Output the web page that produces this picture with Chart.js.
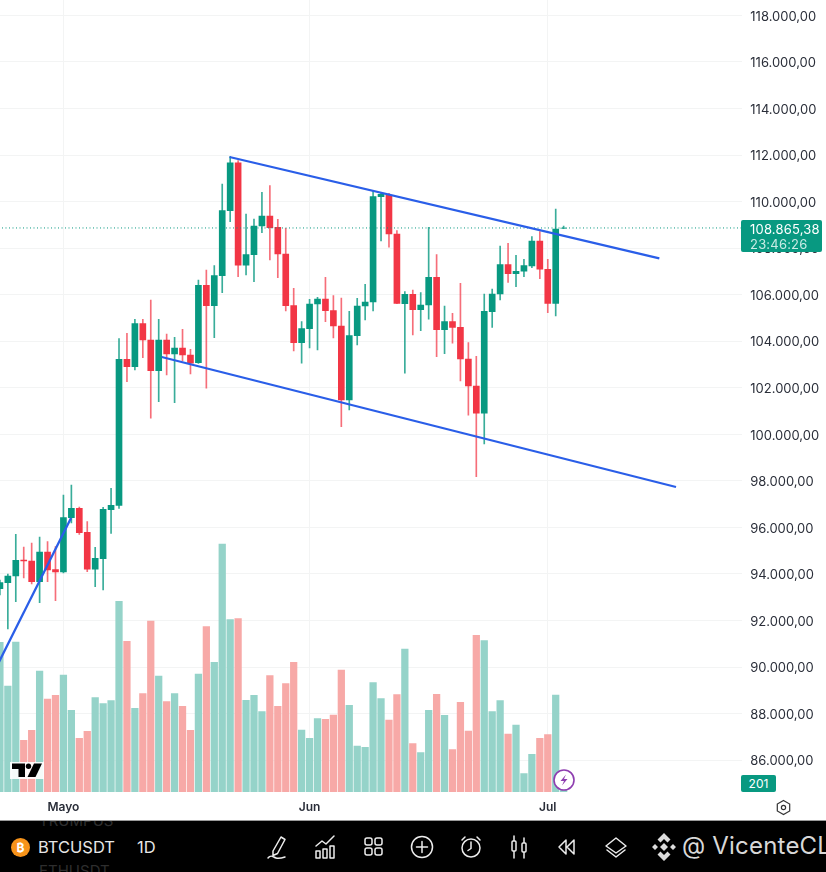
<!DOCTYPE html>
<html><head><meta charset="utf-8">
<style>
html,body{margin:0;padding:0;background:#fff;width:826px;height:872px;overflow:hidden;font-family:Inter,"Noto Sans",sans-serif}
#wrap{position:absolute;left:-12px;top:0;width:838px;height:821px}
.abs{position:absolute}
#bar{position:absolute;left:0;top:820px;width:826px;height:52px;background:#000;border-top:1px solid #9a9a9a;box-sizing:border-box;overflow:hidden;color:#e6e6e6}
#bar svg{position:absolute;stroke:#ececec;fill:none;stroke-width:1.5;stroke-linecap:round;stroke-linejoin:round}
#bar .t{position:absolute;white-space:nowrap}
</style></head><body>
<div id="wrap"><canvas id="c" width="838" height="821"></canvas></div>

<svg class="abs" style="left:10px;top:762px" width="34" height="17" viewBox="0 0 34 17"><rect x="0" y="0" width="34" height="17" fill="#fff" opacity=".9"/><path d="M2 1.500h13v13.500H8.500V7H2z" fill="#000"/><circle cx="18.500" cy="4.200" r="2.700" fill="#000"/><path d="M24 1.500h8L25.500 15H17.500z" fill="#000"/></svg>

<div class="abs" style="left:741px;top:220px;width:81px;height:31.5px;background:#089981;border-radius:2px;color:#fff;font-size:13px;line-height:15px;padding:1.5px 0 0 9px;box-sizing:border-box;letter-spacing:.2px">108.865,38<br><span style="color:#c9ebe5">23:46:26</span></div>
<div class="abs" style="left:741px;top:775px;width:35px;height:17px;background:#089981;border-radius:2px;color:#fff;font-size:12px;line-height:17px;text-align:center">201</div>

<svg class="abs" style="left:552px;top:768px" width="24" height="24" viewBox="0 0 24 24"><circle cx="12" cy="12" r="10" fill="#fff" stroke="#8e3db0" stroke-width="1.6"/><path d="M14 6.500 8.500 13h3.500L10 17.500 15.500 11H12z" fill="#8e3db0"/></svg>
<svg class="abs" style="left:775px;top:799px" width="17" height="17" viewBox="0 0 17 17"><path d="M8.500 1.500 14.700 5v7l-6.200 3.500L2.300 12V5z" fill="none" stroke="#333" stroke-width="1.200"/><circle cx="8.500" cy="8.500" r="2.100" fill="none" stroke="#333" stroke-width="1.200"/></svg>

<div id="bar">
  <div class="t" style="left:39px;top:-10px;font-size:15px;color:#2e2e2e">TRUMPUS</div>
  <div class="t" style="left:39px;top:40px;font-size:15px;color:#2e2e2e">ETHUSDT</div>
  <svg style="left:11px;top:17px;stroke:none" width="19" height="19" viewBox="0 0 19 19"><circle cx="9.500" cy="9.500" r="9.500" fill="#f7931a" stroke="none"/></svg>
  <div class="t" style="left:11px;top:17px;width:19px;text-align:center;font-size:12px;line-height:19px;color:#fff;font-weight:700">₿</div>
  <div class="t" style="left:38px;top:16px;font-size:16.500px;line-height:20px">BTCUSDT</div>
  <div class="t" style="left:137px;top:16px;font-size:16.500px;line-height:20px">1D</div>
  <svg style="left:266px;top:13px" width="24" height="26" viewBox="0 0 24 26"><path d="M7 17 15 3l4 2.500-7.500 14-4.500 2zM2 24c3-4 5-1 8 0 3 1 6 0 9-1"/></svg>
  <svg style="left:314px;top:13px" width="24" height="26" viewBox="0 0 24 26"><path d="M2 12l6-5 4 3 8-8M2 24v-7h4v7zM9 24v-9h4v9zM16 24V12h4v12z"/></svg>
  <svg style="left:363px;top:15px" width="22" height="22" viewBox="0 0 22 22"><rect x="2" y="2" width="7" height="7" rx="2"/><rect x="12" y="2" width="7" height="7" rx="2"/><rect x="2" y="12" width="7" height="7" rx="2"/><rect x="12" y="12" width="7" height="7" rx="2"/></svg>
  <svg style="left:410px;top:14px" width="24" height="24" viewBox="0 0 24 24"><circle cx="12" cy="12" r="10.500"/><path d="M12 6.500v11M6.500 12h11"/></svg>
  <svg style="left:459px;top:14px" width="24" height="24" viewBox="0 0 24 24"><circle cx="12" cy="13" r="9"/><path d="M12 7v6.500l-3 2M3 5l3-3M21 5l-3-3"/></svg>
  <svg style="left:509px;top:13px" width="20" height="26" viewBox="0 0 20 26"><path d="M5 2v22M15 4v20"/><rect x="3" y="7" width="4" height="10" rx="1" fill="#000"/><rect x="13" y="9" width="4" height="9" rx="1" fill="#000"/></svg>
  <svg style="left:557px;top:16px" width="20" height="20" viewBox="0 0 20 20"><path d="M9 3 2 10l7 7zM17 3l-7 7 7 7z"/></svg>
  <svg style="left:604px;top:14px" width="24" height="24" viewBox="0 0 24 24"><path d="M12 3 22 11l-10 7L2 11zM3 15l9 7 9-7"/></svg>
  <svg style="left:651px;top:11px;stroke:none" width="26" height="30" viewBox="0 0 26 30"><g fill="#dcdcdc" stroke="none"><path d="M13 1l6.500 6.500-3 3L13 7l-3.500 3.500-3-3zM13 29l-6.500-6.500 3-3L13 23l3.500-3.500 3 3zM1 15l3-3 3 3-3 3zM19 15l3-3 3 3-3 3zM13 11l4 4-4 4-4-4z"/></g></svg>
  <div class="t" style="left:682px;top:11px;font-size:24px;line-height:28px;color:#d8d8d8;letter-spacing:.2px">@ VicenteCL</div>
</div>

<script src="https://cdn.jsdelivr.net/npm/chart.js@4"></script>
<script>
// Daily BTCUSDT candles, 23 Apr .. 3 Jul
const startDate = Date.UTC(2025, 3, 22);
const slotCount = 95;
const monthTicks = {'05-01':'Mayo','06-01':'Jun','07-01':'Jul'};
const priceTicks = [86000,88000,90000,92000,94000,96000,98000,100000,102000,104000,106000,108000,110000,112000,114000,116000,118000];
const lastPrice = 108865.38;

const opens = [93369,93626,93914,94601,94558,93669,94945,94185,94086,96419,96822,95791,94202,94657,96762,96951,103223,102906,104753,104053,102734,104053,103451,103709,103408,103077,106403,105526,106815,109607,111669,107262,107717,108950,109380,108894,107747,105526,103937,104538,105599,105814,105311,104654,101475,104237,105513,105685,110209,110269,108606,105612,106016,105354,105556,106746,104495,104839,104598,103236,102076,100904,105268,106029,107288,106901,107004,107232,108306,107090,105629,108855];
const closes= [93626,93914,94589,94558,93669,94945,94172,94086,96419,96822,95774,94202,94674,96780,96951,103223,102906,104753,104053,102734,104053,103451,103709,103408,103052,106403,105526,106815,109607,111669,107262,107717,108950,109380,108877,107747,105526,103937,104538,105599,105814,105311,104654,101475,104237,105513,105685,110209,110312,108606,105621,106016,105354,105556,106746,104495,104839,104598,103236,102076,100904,105286,106029,107288,106901,107004,107245,108306,107090,105629,108821,108865];
const highs = [93742,94000,95705,95160,95332,95589,95388,95173,97394,97823,96878,96247,95147,96865,97682,104109,104340,104942,104942,105771,104942,104310,104169,104512,103653,106630,107060,107245,110754,111927,111755,109466,109251,110398,110681,109238,108851,106274,104839,105801,105887,106746,105956,105857,105286,105844,106445,110466,110398,110355,108748,106128,106201,106085,108894,107717,105513,105200,106488,103937,103352,106029,106244,108091,108207,107691,107519,108490,108705,107519,109680,108950];
const lows  = [93098,91637,92810,93828,93570,92767,93669,92853,94050,96191,95705,94099,93454,93313,95748,96822,102261,102764,103292,100689,101402,102549,101359,103163,102592,103050,101978,104151,106085,109135,106772,106845,106557,108662,107489,106729,105298,103580,103052,103709,103623,104839,104139,100328,101045,103838,104912,105298,108306,108035,105612,102622,104267,104452,104942,103335,103464,103911,102291,100818,98180,99585,104598,105771,106531,106342,106772,107159,106686,105225,105084,108830];
// Volume, hundreds of BTC
const volumes = [149.7,106,150,51.7,61.7,121,93,96.7,117,81.7,53.7,60.7,94.3,88.3,91.3,190.7,150.7,83.7,98.3,171,116,90.3,98.3,85.7,61.7,118,165.3,129.7,248,172.3,173.3,91.7,96.7,80.3,116.3,85.7,108.3,129.7,62,53.7,73.3,72.7,77,122,86.7,46,44.7,109.3,93.3,72,97.3,143,48.3,39.3,81.7,97.7,76.7,42.3,89.7,61,156.7,151.3,80.3,91.3,58,67,18.3,37.7,53.7,57.3,97,2];
// Trend lines: [day offset from 1 May, price]
const upperChannel = [[20.92,111914],[75.05,107562]];
const lowerChannel = [[12.38,103322],[77.15,97737]];
const rallyLine    = [[-9,89618],[0.96,96405]];

const UP='#089981', DOWN='#f23645', UPW='rgba(8,153,129,.8)', DOWNW='rgba(242,54,69,.72)', UPV='#95d3c9', DOWNV='#f7a9a7';
const BLUE='#2a5ee8', GRID='#f3f4f4', TXT='#2a2e39';

const labels = Array.from({length:slotCount},(_,k)=>new Date(startDate+k*864e5).toISOString().slice(5,10));
const slot = (arrFn)=>labels.map((_,k)=>{const i=k-1; return i>=0&&i<opens.length?arrFn(i):null;});
const isUp = i=>closes[i]>=opens[i];
const pts = a=>a.map(([x,y])=>({x,y}));
const lineDs=(data,order,extra)=>Object.assign({type:'line',data:pts(data),xAxisID:'xl',yAxisID:'y',borderColor:BLUE,borderWidth:2.3,pointRadius:0,order,tension:0,parsing:false},extra||{});
const AREA_LEFT=-9.5, AREA_RIGHT=85.5;
const noPad=s=>{s.paddingTop=0;s.paddingBottom=0;s.paddingLeft=0;s.paddingRight=0;};
// Nudge the price labels down to sit on their grid lines the way the reference font does.
const nudgeLabels=(s,dy)=>{
  if(s._nudged) return; s._nudged=true;
  const orig=s._computeLabelItems.bind(s);
  s._computeLabelItems=area=>{
    const items=orig(area);
    items.forEach(it=>{it.options.translation=[it.options.translation[0],it.options.translation[1]+dy];});
    return items;
  };
};

new Chart(document.getElementById('c'),{
  data:{labels,datasets:[
    lineDs(upperChannel,0),
    lineDs(lowerChannel,0),
    lineDs(rallyLine,0),
    lineDs([[AREA_LEFT,lastPrice],[AREA_RIGHT,lastPrice]],1,{borderColor:UP,borderWidth:1,borderDash:[1,2.5]}),
    {type:'bar',grouped:false,order:2,yAxisID:'y',xAxisID:'x',barThickness:6,
     data:slot(i=>[opens[i],closes[i]]),
     backgroundColor:slot(i=>isUp(i)?UP:DOWN)},
    {type:'bar',grouped:false,order:3,yAxisID:'y',xAxisID:'x',barThickness:1,
     data:slot(i=>[lows[i],highs[i]]),
     backgroundColor:slot(i=>isUp(i)?UPW:DOWNW)},
    {type:'bar',grouped:false,order:4,yAxisID:'v',xAxisID:'x',barThickness:6.6,
     data:slot(i=>volumes[i]),
     backgroundColor:slot(i=>isUp(i)?UPV:DOWNV)}
  ]},
  options:{
    responsive:false,animation:false,
    layout:{padding:0},
    plugins:{legend:{display:false},tooltip:{enabled:false}},
    scales:{
      x:{type:'category',position:'bottom',border:{display:false},
         grid:{offset:false,drawTicks:false,lineWidth:1,
               color:c=>{const l=labels[c.index];return monthTicks[l]?GRID:'transparent';}},
         ticks:{autoSkip:false,maxRotation:0,minRotation:0,padding:8,color:TXT,
                font:{family:'Inter',size:12,weight:'600'},
                callback(v){return monthTicks[labels[v]]||'';}},
         afterFit(s){s.height=29;noPad(s);}},
      xl:{type:'linear',display:false,min:AREA_LEFT,max:AREA_RIGHT},
      y:{type:'linear',position:'right',min:84634,max:118659,border:{display:false},
         grid:{color:GRID,drawTicks:false},
         afterBuildTicks(s){s.ticks=priceTicks.map(value=>({value}));},
         ticks:{padding:8,color:TXT,
                font:{family:'Inter',size:13},
                callback(v){return v.toLocaleString('de-DE',{minimumFractionDigits:2,maximumFractionDigits:2});}},
         afterFit(s){s.width=83.7;noPad(s);nudgeLabels(s,1.3);}},
      v:{type:'linear',display:false,min:0,max:792}
    }
  }
});
</script>
</body></html>
